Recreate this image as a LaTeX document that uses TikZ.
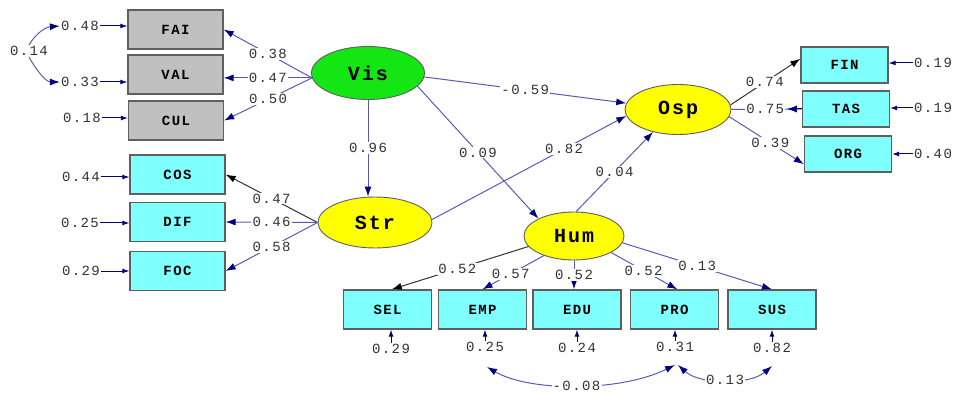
\documentclass[tikz,border=0pt]{standalone}
\usepackage{fontspec}
\usetikzlibrary{arrows.meta,shapes.geometric,calc}
\newfontfamily\lblfont[LetterSpace=10]{Liberation Mono}

\definecolor{pathblue}{RGB}{90,90,180}
\definecolor{tipblue}{RGB}{0,0,128}
\definecolor{fixedgray}{RGB}{50,50,50}
\definecolor{labelgray}{RGB}{50,50,50}
\definecolor{boxgray}{RGB}{192,192,192}
\definecolor{boxcyan}{RGB}{128,255,255}
\definecolor{latyellow}{RGB}{255,255,0}
\definecolor{latgreen}{RGB}{20,230,20}
\definecolor{edgegray}{RGB}{95,95,95}

\tikzset{
  obsbox/.style={draw=edgegray, line width=1.3pt, inner sep=0pt,
    minimum width=95pt, minimum height=39pt, text=black,
    font=\lblfont\bfseries\fontsize{14}{14}\selectfont},
  grayobs/.style={obsbox, fill=boxgray},
  cyanobs/.style={obsbox, fill=boxcyan},
  rightobs/.style={cyanobs, minimum width=87pt, minimum height=36pt},
  lowobs/.style={cyanobs, minimum width=88pt, minimum height=39pt},
  latent/.style={ellipse, draw=edgegray, line width=0.9pt, inner sep=0pt,
    text=black, font=\lblfont\bfseries\fontsize{20}{20}\selectfont},
  coef/.style={fill=white, inner sep=1.2pt, text=labelgray,
    font=\lblfont\fontsize{14}{14}\selectfont},
  errlabel/.style={inner sep=1pt, text=labelgray,
    font=\lblfont\fontsize{14}{14}\selectfont},
  freepath/.style={draw=pathblue, line width=1pt,
    -{Latex[length=10pt,width=7pt,color=tipblue]}},
  fixedpath/.style={draw=fixedgray, line width=1pt,
    -{Latex[length=10pt,width=7pt,color=black]}},
  errpath/.style={draw=tipblue, line width=1pt,
    -{Latex[length=7pt,width=5pt,color=tipblue]}},
  covpath/.style={draw=pathblue, line width=1pt,
    {Latex[length=10pt,width=7pt,color=tipblue]}-{Latex[length=10pt,width=7pt,color=tipblue]}},
  halfcov/.style={draw=pathblue, line width=1pt,
    -{Latex[length=10pt,width=7pt,color=tipblue]}},
  bareline/.style={draw=pathblue, line width=1pt},
}

\begin{document}
\begin{tikzpicture}[x=1pt,y=-1pt]
\path[use as bounding box] (0,0) rectangle (954,393);

% latent variables
\node[latent, fill=latgreen,  minimum width=113pt, minimum height=53pt] (Vis) at (368,73)    {Vis};
\node[latent, fill=latyellow, minimum width=114pt, minimum height=51pt] (Str) at (375,222.5) {Str};
\node[latent, fill=latyellow, minimum width=100pt, minimum height=48pt] (Hum) at (574,236)   {Hum};
\node[latent, fill=latyellow, minimum width=106pt, minimum height=50pt] (Osp) at (678,109.5) {Osp};

% indicators of Vis
\node[grayobs] (FAI) at (175.5,29.5)  {FAI};
\node[grayobs] (VAL) at (175.5,74.5)  {VAL};
\node[grayobs] (CUL) at (176,120.5)   {CUL};

% indicators of Str
\node[cyanobs] (COS) at (177.5,174.5) {COS};
\node[cyanobs] (DIF) at (177.5,222)   {DIF};
\node[cyanobs] (FOC) at (177.5,271)   {FOC};

% indicators of Osp
\node[rightobs] (FIN) at (844.5,65)   {FIN};
\node[rightobs] (TAS) at (846,109)    {TAS};
\node[rightobs] (ORG) at (848,154)    {ORG};

% indicators of Hum
\node[lowobs] (SEL) at (387.5,309.5) {SEL};
\node[lowobs] (EMP) at (482.5,309.5) {EMP};
\node[lowobs] (EDU) at (577,309.5)   {EDU};
\node[lowobs] (PRO) at (674.5,309.5) {PRO};
\node[lowobs] (SUS) at (772,309.5)   {SUS};

% error variances
\node[errlabel] (eFAI) at (80,26)   {0.48};
\node[errlabel] (eVAL) at (80,82)   {0.33};
\node[errlabel] (eCUL) at (82,118)  {0.18};
\node[errlabel] (eCOS) at (81,177)  {0.44};
\node[errlabel] (eDIF) at (80,223)  {0.25};
\node[errlabel] (eFOC) at (81,271)  {0.29};
\node[errlabel] (eFIN) at (933,63)  {0.19};
\node[errlabel] (eTAS) at (933,108) {0.19};
\node[errlabel] (eORG) at (933,154) {0.40};
\node[errlabel] (eSEL) at (391,349) {0.29};
\node[errlabel] (eEMP) at (485,347) {0.25};
\node[errlabel] (eEDU) at (577,348) {0.24};
\node[errlabel] (ePRO) at (675,347) {0.31};
\node[errlabel] (eSUS) at (772,348) {0.82};

\foreach \e in {FAI, VAL, CUL, COS, DIF, FOC}
  \draw[errpath] (e\e.east) -- (e\e.east -| \e.west);
\foreach \e in {FIN, TAS, ORG}
  \draw[errpath] (e\e.west) -- (e\e.west -| \e.east);
\foreach \e in {SEL, EMP, EDU, PRO, SUS}
  \draw[errpath] (e\e.north) -- (e\e.north |- \e.south);

% error covariances
\node[errlabel] (c14) at (29,51) {0.14};
\draw[halfcov] (c14.north) .. controls (36,33) and (46,27) .. (eFAI.west);
\draw[halfcov] (c14.south) .. controls (36,70) and (46,82) .. (eVAL.west);

\coordinate (cEMP)  at (487,367);
\coordinate (cPROa) at (675,365);
\coordinate (cPROb) at (678,365);
\coordinate (cSUS)  at (772,366);
\draw[covpath] (cEMP) .. controls (530,392) and (620,392) .. (cPROa)
  node[coef, pos=0.5] {-0.08};
\draw[covpath] (cPROb) .. controls (700,385) and (750,385) .. (cSUS)
  node[coef, pos=0.5] {0.13};

% loadings of Vis
\draw[freepath] (Vis.185) -- (FAI.east) node[coef, pos=0.5] {0.38};
\draw[freepath] (Vis.185) -- (Vis.185 -| VAL.east) node[coef, pos=0.5] {0.47};
\draw[freepath] (Vis.185) -- (CUL.east) node[coef, pos=0.5] {0.50};

% loadings of Str
\draw[fixedpath] (Str.west) -- (COS.east) node[coef, pos=0.5] {0.47};
\draw[freepath]  (Str.west) -- (DIF.east) node[coef, pos=0.5] {0.46};
\draw[freepath]  (Str.west) -- (FOC.east) node[coef, pos=0.5] {0.58};

% structural paths
\draw[freepath] (Vis.south) -- (Vis.south |- Str.north) node[coef, pos=0.5] {0.96};
\draw[freepath] (Vis.-15) -- (Hum.154) node[coef, pos=0.5] {0.09};
\draw[freepath] (Vis.-4) -- (Osp.173) node[coef, pos=0.5] {-0.59};
\draw[freepath] (Str.3) -- (Osp.187) node[coef, pos=0.68] {0.82};
\draw[freepath] (Hum.85) -- (Osp.222) node[coef, pos=0.5] {0.04};

% loadings of Osp
\draw[fixedpath] (Osp.5) -- (FIN.172) node[coef, pos=0.49] {0.74};
\draw[bareline]  (Osp.east) -- (TAS.west) node[coef, pos=0.48] {0.75};
\draw[errpath, -{Latex[length=10pt,width=7pt,color=tipblue]}] (TAS.west) -- ++(-15,0);
\draw[freepath]  (Osp.-8) -- (ORG.193) node[coef, pos=0.55] {0.39};

% loadings of Hum
\draw[fixedpath] (Hum.193) -- (SEL.78) node[coef, pos=0.52] {0.52};
\draw[freepath]  (Hum.213) -- (EMP.north) node[coef, pos=0.54] {0.57};
\draw[freepath]  (Hum.south) -- (Hum.south |- EDU.north) node[coef, pos=0.5] {0.52};
\draw[freepath]  (Hum.-24) -- (PRO.82) node[coef, pos=0.49] {0.52};
\draw[freepath]  (Hum.-8) -- (SUS.north) node[coef, pos=0.5] {0.13};
\end{tikzpicture}
\end{document}
